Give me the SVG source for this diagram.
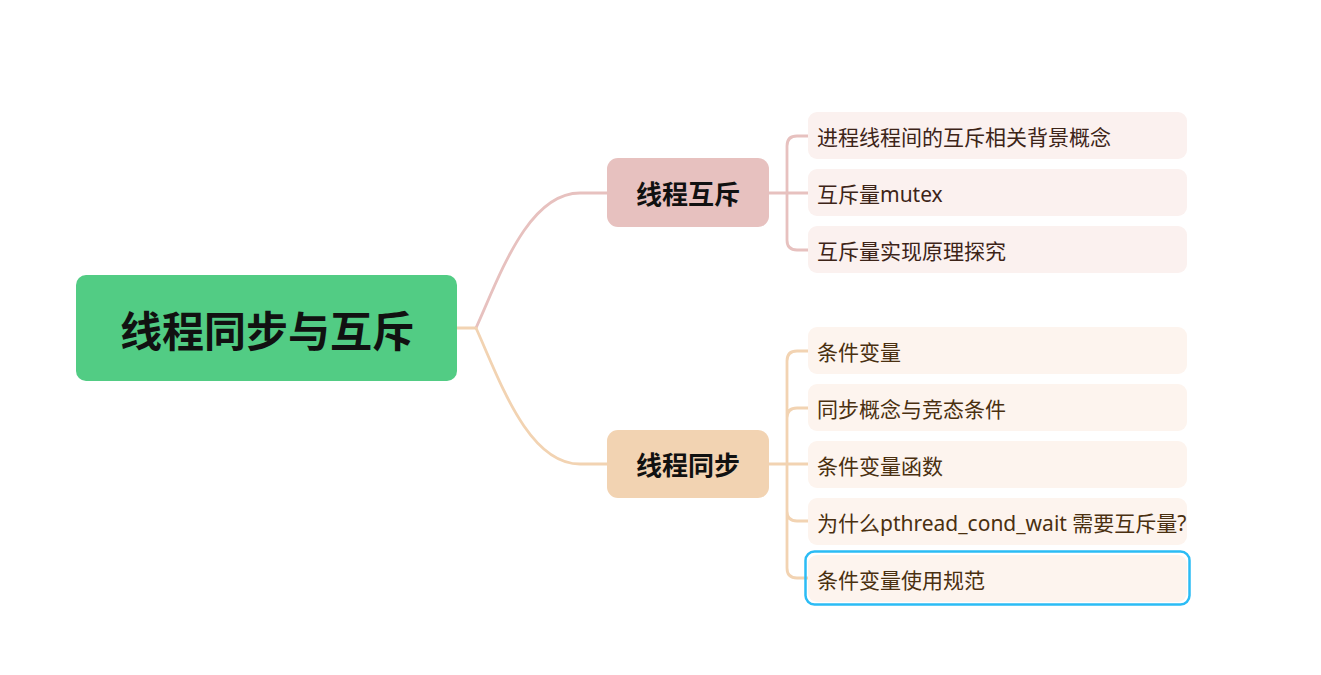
<svg xmlns="http://www.w3.org/2000/svg" width="1321" height="675" viewBox="0 0 1321 675">
<style>
.c{fill:none;stroke-width:2.8;stroke-linecap:round}
.cp{stroke:#e7c1bf}
.co{stroke:#f2d3b2}
.t{font-family:"Noto Sans","Noto Sans CJK SC",sans-serif;dominant-baseline:central}
.root{font-size:42px;font-weight:700;fill:#111;text-anchor:middle}
.br{font-size:26px;font-weight:700;fill:#111;text-anchor:middle}
.lf{font-size:21px}
.lp{fill:#fbf1ef}
.lo{fill:#fdf4ee}
.tp{fill:#3d2418}
.to{fill:#4a3010}
</style>
<rect width="1321" height="675" fill="#fff"/>
<g id="connectors">
<path class="c co" d="M457 328 H476"/>
<path class="c cp" d="M476 328 C500 275 528 193 580 193 H607"/>
<path class="c co" d="M476 328 C500 381 528 464 580 464 H607"/>
<path class="c cp" d="M769 193 H787 M787 193 V146 Q787 136 797 136 H810 M787 193 H810 M787 193 V240 Q787 250 797 250 H810"/>
<path class="c co" d="M769 464 H810 M787 464 V361 Q787 351 797 351 H810 M787 464 V418 Q787 408 797 408 H810 M787 464 V511 Q787 521 797 521 H810 M787 464 V568 Q787 578 797 578 H810"/>
</g>
<g id="root">
<rect x="76" y="275" width="381" height="106" rx="10" fill="#52cc84"/>
<text class="t root" x="267" y="330">线程同步与互斥</text>
</g>
<g id="b1">
<rect x="607" y="158" width="162" height="69" rx="11" fill="#e7c1bf"/>
<text class="t br" x="688" y="194">线程互斥</text>
</g>
<g id="b2">
<rect x="607" y="430" width="162" height="68" rx="11" fill="#f2d3b2"/>
<text class="t br" x="688" y="465">线程同步</text>
</g>
<g id="l1"><rect class="lp" x="808" y="112" width="379" height="47" rx="9"/><text class="t lf tp" x="817" y="137">进程线程间的互斥相关背景概念</text></g>
<g id="l2"><rect class="lp" x="808" y="169" width="379" height="47" rx="9"/><text class="t lf tp" x="817" y="194">互斥量mutex</text></g>
<g id="l3"><rect class="lp" x="808" y="226" width="379" height="47" rx="9"/><text class="t lf tp" x="817" y="251">互斥量实现原理探究</text></g>
<g id="l4"><rect class="lo" x="808" y="327" width="379" height="47" rx="9"/><text class="t lf to" x="817" y="352">条件变量</text></g>
<g id="l5"><rect class="lo" x="808" y="384" width="379" height="47" rx="9"/><text class="t lf to" x="817" y="409">同步概念与竞态条件</text></g>
<g id="l6"><rect class="lo" x="808" y="441" width="379" height="47" rx="9"/><text class="t lf to" x="817" y="466">条件变量函数</text></g>
<g id="l7"><rect class="lo" x="808" y="498" width="379" height="47" rx="9"/><text class="t lf to" x="817" y="523">为什么pthread_cond_wait 需要互斥量?</text></g>
<g id="l8"><rect class="lo" x="808" y="555" width="379" height="47" rx="9"/><rect x="805.5" y="551.5" width="384" height="53" rx="9" fill="none" stroke="#2bbcf5" stroke-width="2.5"/><text class="t lf to" x="817" y="580">条件变量使用规范</text></g>
</svg>
